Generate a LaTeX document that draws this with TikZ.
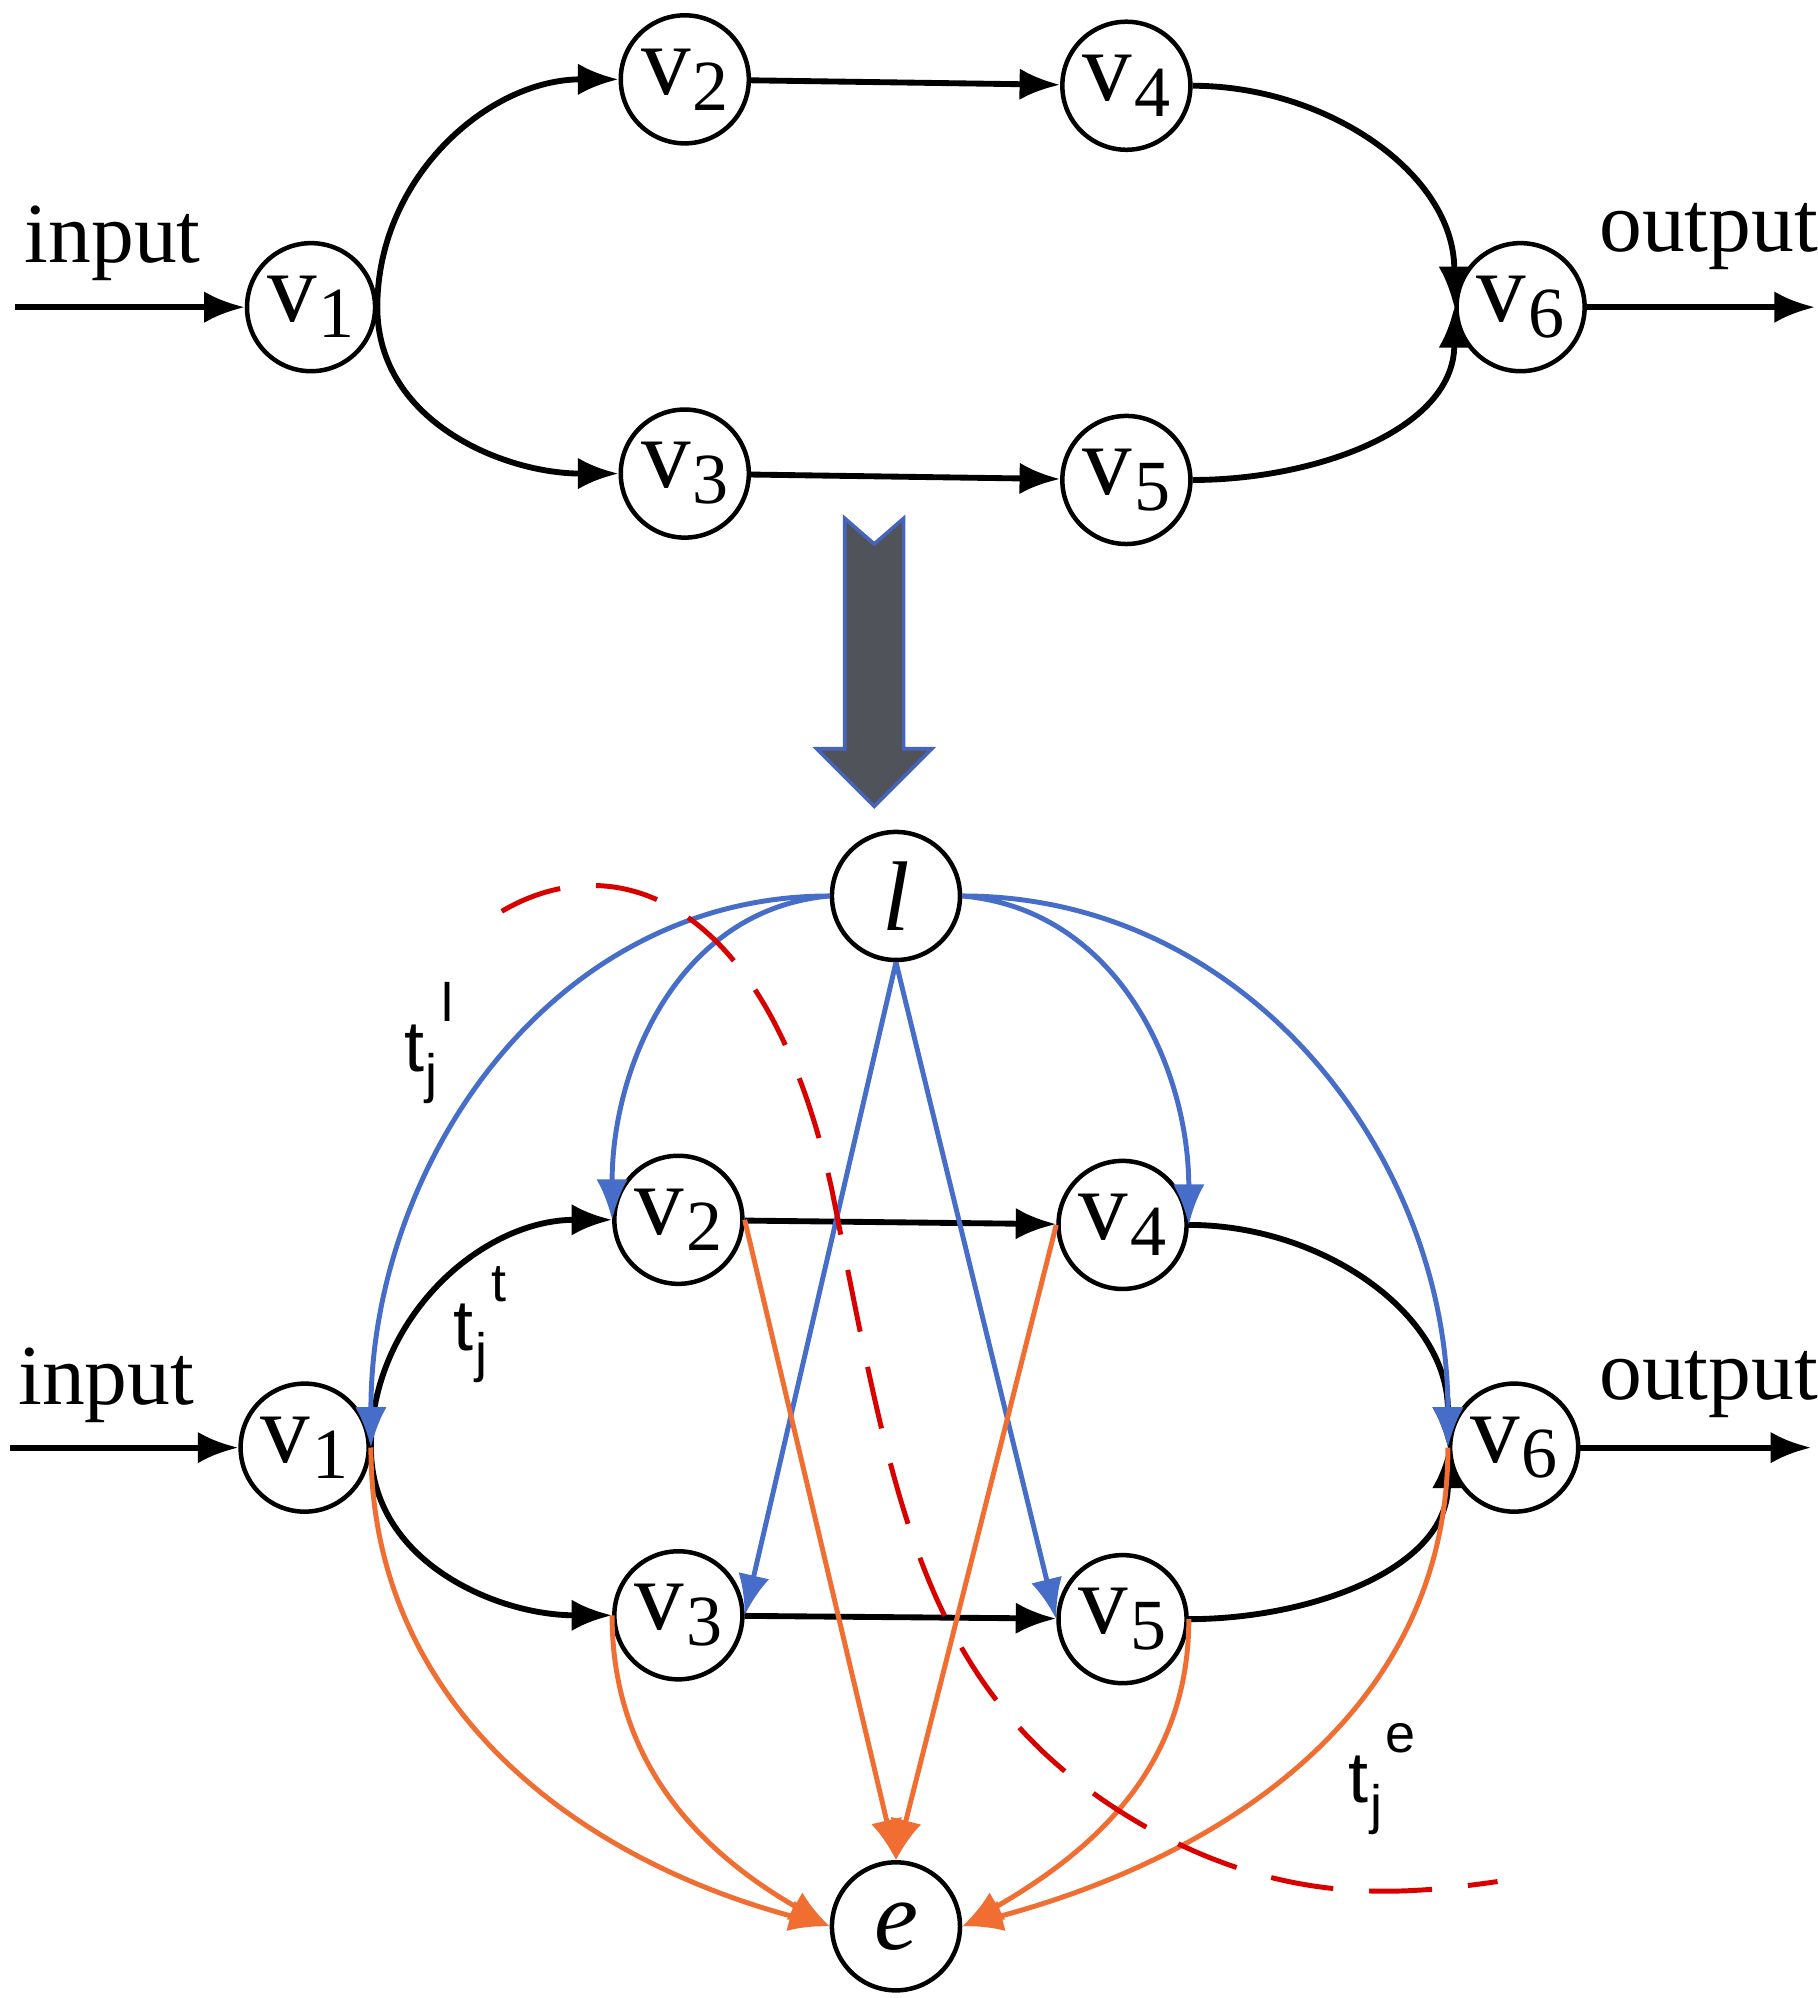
\documentclass[tikz,border=0pt]{standalone}
\usepackage{fontspec}
\setmainfont{Liberation Serif}
\newfontfamily\sansf{Liberation Sans}
\usetikzlibrary{arrows.meta}
\begin{document}
\begin{tikzpicture}[x=0.01cm,y=-0.01cm,
 nd/.style={circle,draw,line width=1pt,minimum size=1cm,inner sep=0pt,font=\fontsize{22}{24}\selectfont},
 blk/.style={line width=1.3pt,-{Latex[length=9pt,width=7pt]}},
 blu/.style={color={rgb,255:red,70;green,110;blue,200},line width=1.1pt,-{Latex[length=9pt,width=7pt]}},
 org/.style={color={rgb,255:red,240;green,110;blue,50},line width=1.1pt,-{Latex[length=9pt,width=7pt]}},
 lab/.style={font=\fontsize{19}{21}\selectfont},
 tl/.style={font=\sansf\fontsize{16}{18}\selectfont}]
\useasboundingbox (0,0) rectangle (1420,1561);
\def\V#1{v\kern0.02em\raisebox{-0.35ex}{\fontsize{16}{18}\selectfont #1}}
\def\T#1{t\kern0.02em\raisebox{-0.55ex}{\fontsize{12}{14}\selectfont j}\kern0.05em\raisebox{1.3ex}{\fontsize{12}{14}\selectfont #1}}
% top
\node[nd] (a1) at (243,240) {\V1};
\node[nd] (a2) at (535,62) {\V2};
\node[nd] (a4) at (880,67) {\V4};
\node[nd] (a3) at (535,370) {\V3};
\node[nd] (a5) at (880,375) {\V5};
\node[nd] (a6) at (1188,240) {\V6};
\coordinate (ai) at (12,240); \coordinate (ao) at (1418,240);
\node[lab] at (88,190) {input};
\node[lab] at (1335,185) {output};
\draw[blk] (ai) -- (a1);
\draw[blk] (a6) -- (ao);
\draw[blk] (a1.east) to[out=90,in=180] (a2.west);
\draw[blk] (a1.east) to[out=-90,in=180] (a3.west);
\draw[blk] (a2) -- (a4);
\draw[blk] (a3) -- (a5);
\draw[blk] (a4.east) to[out=0,in=90] (a6.west);
\draw[blk] (a5.east) to[out=0,in=-90] (a6.west);
% big arrow
\draw[fill={rgb,255:red,80;green,83;blue,89},draw={rgb,255:red,70;green,100;blue,190},line width=0.8pt]
 (660,405) -- (683,425) -- (706,405) -- (706,585) -- (728,585) -- (683,630) -- (638,585) -- (660,585) -- cycle;
% bottom
\node[nd] (l) at (700,700) {\textit{l}};
\node[nd] (b2) at (530,953) {\V2};
\node[nd] (b4) at (877,957) {\V4};
\node[nd] (b1) at (238,1131) {\V1};
\node[nd] (b6) at (1183,1131) {\V6};
\node[nd] (b3) at (530,1262) {\V3};
\node[nd] (b5) at (877,1265) {\V5};
\node[nd] (e) at (700,1505) {\textit{e}};
\coordinate (bi) at (8,1131); \coordinate (bo) at (1415,1131);
\node[lab] at (83,1082) {input};
\node[lab] at (1335,1082) {output};
\draw[blk] (bi) -- (b1);
\draw[blk] (b6) -- (bo);
\draw[blk] (b1.east) to[out=90,in=180] (b2.west);
\draw[blk] (b1.east) to[out=-90,in=180] (b3.west);
\draw[blk] (b2) -- (b4);
\draw[blk] (b3) -- (b5);
\draw[blk] (b4.east) to[out=0,in=90] (b6.west);
\draw[blk] (b5.east) to[out=0,in=-90] (b6.west);
% blue
\draw[blu] (l.west) to[out=180,in=90] (b1.east);
\draw[blu] (l.west) to[out=185,in=90] (b2.west);
\draw[blu] (l.south) -- (b3.east);
\draw[blu] (l.south) -- (b5.west);
\draw[blu] (l.east) to[out=-5,in=90] (b4.east);
\draw[blu] (l.east) to[out=0,in=90] (b6.west);
% orange
\draw[org] (b1.east) to[out=-90,in=165] (e.west);
\draw[org] (b3.west) to[out=-90,in=150] (e.west);
\draw[org] (b2.east) -- (e.north);
\draw[org] (b4.west) -- (e.north);
\draw[org] (b5.east) to[out=-90,in=30] (e.east);
\draw[org] (b6.west) to[out=-90,in=15] (e.east);
% red dashed
\draw[red!85!black,line width=1.1pt,dash pattern=on 14pt off 8pt]
 (392,712) .. controls (480,660) and (600,700) .. (650,930)
 .. controls (700,1180) and (720,1330) .. (900,1430)
 .. controls (1010,1490) and (1100,1480) .. (1170,1470);
\node[tl] at (335,815) {\T{l}};
\node[tl] at (375,1035) {\T{t}};
\node[tl] at (1080,1390) {\T{e}};
\end{tikzpicture}
\end{document}
